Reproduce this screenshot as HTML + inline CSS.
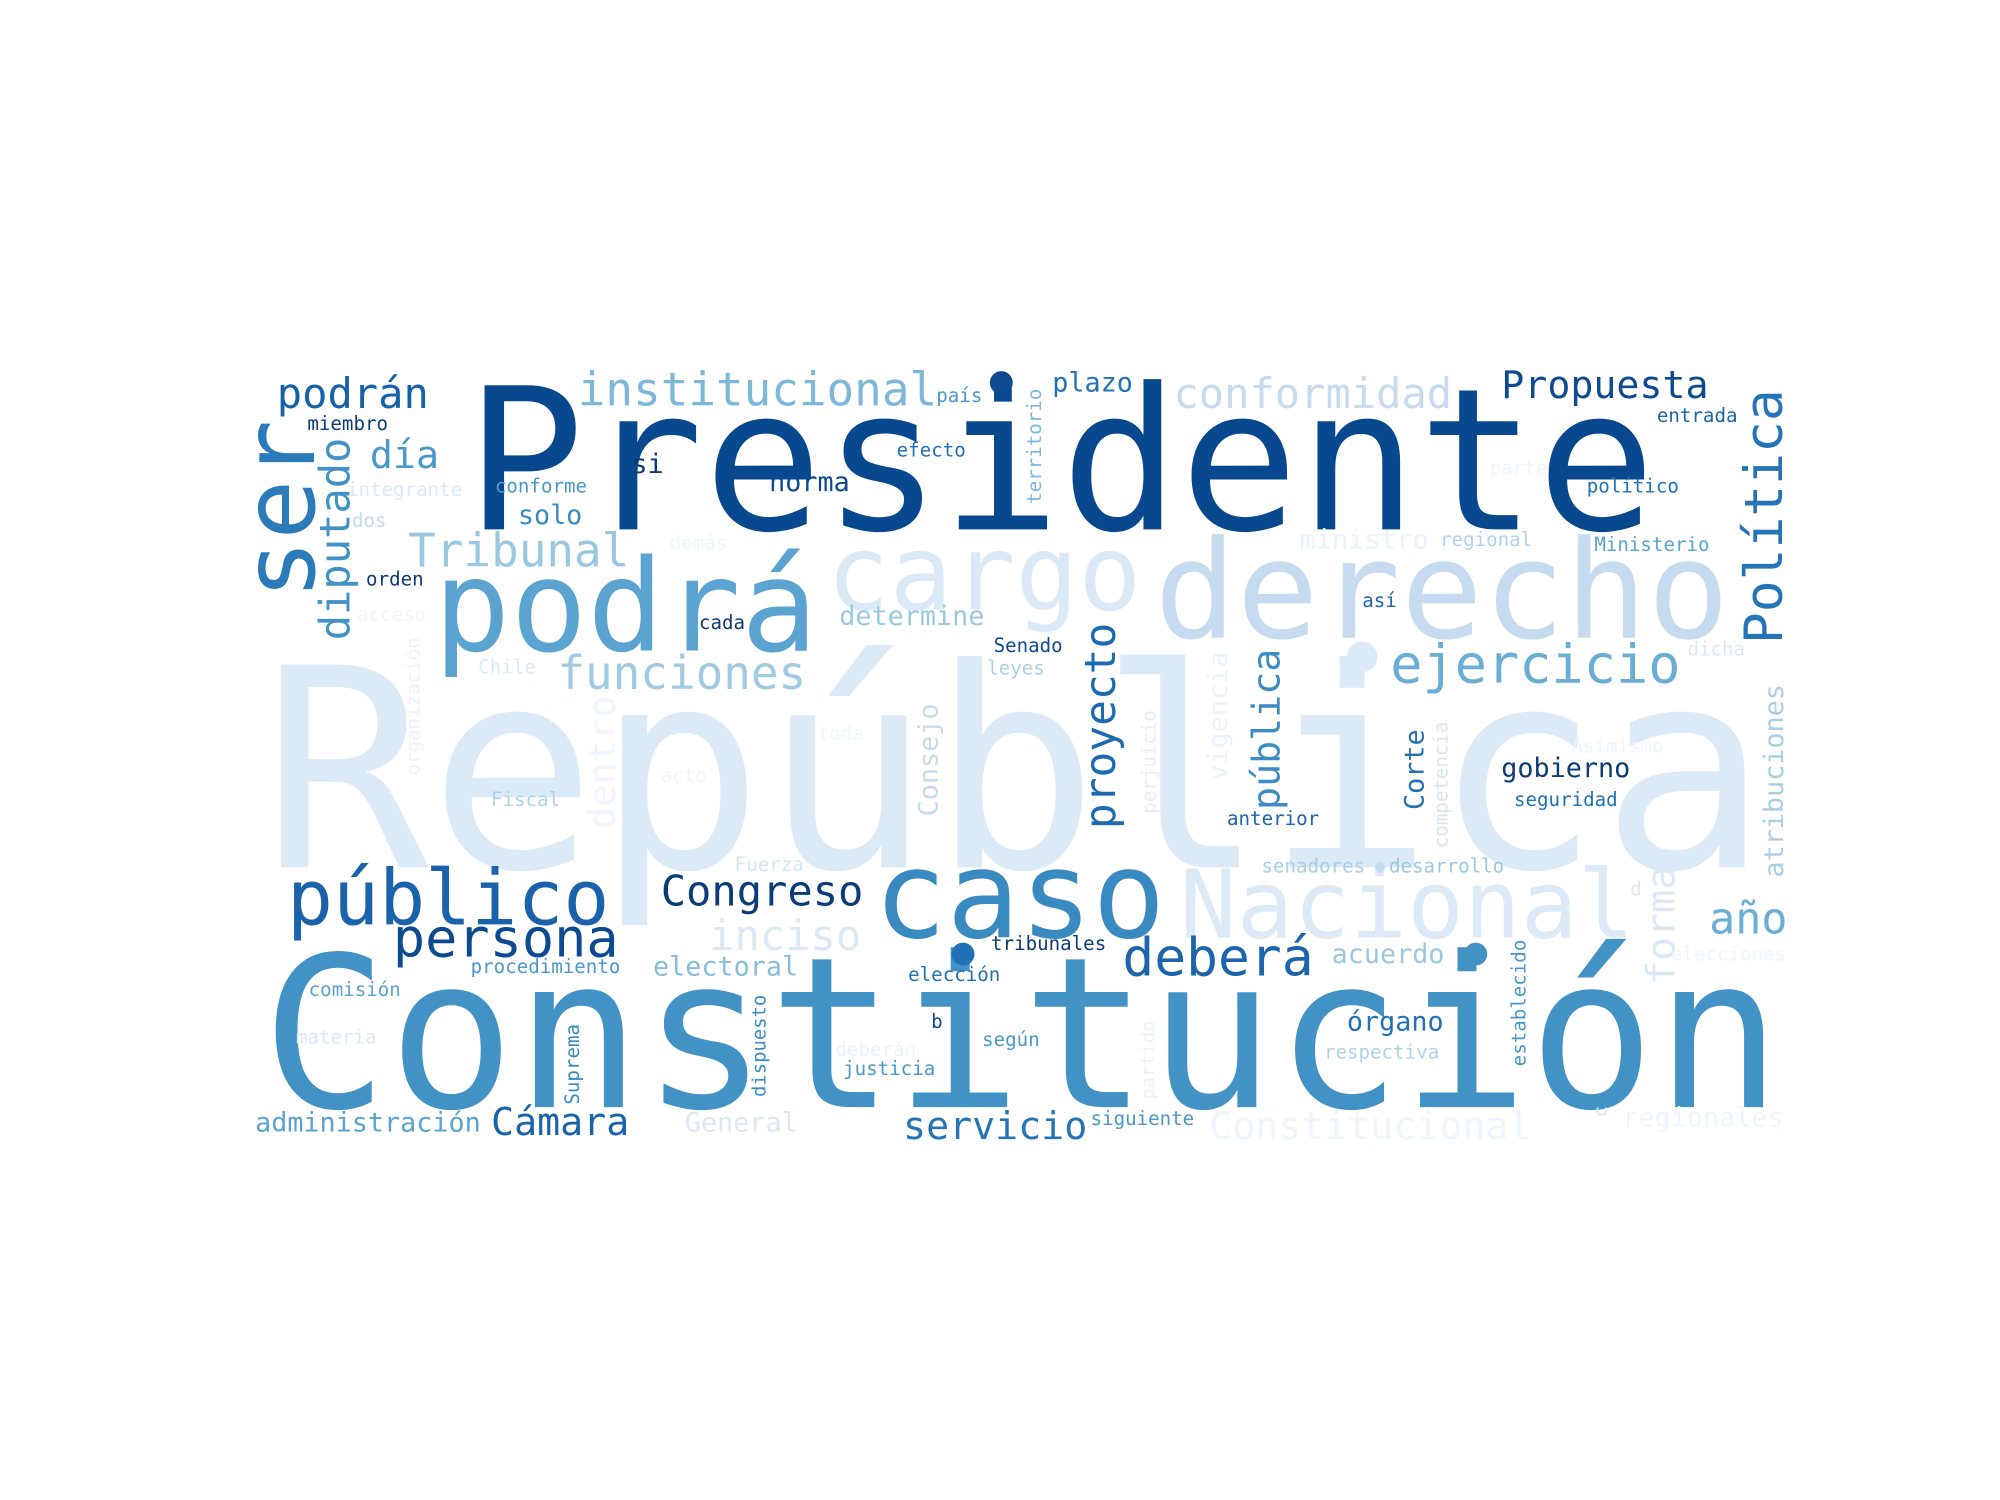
<!DOCTYPE html>
<html><head><meta charset="utf-8">
<style>
html,body{margin:0;padding:0;background:#fff;}
svg{display:block;}
text{font-family:"DejaVu Sans Mono","Liberation Mono",monospace;}
</style></head>
<body>
<svg id="cloud" width="2000" height="1500" viewBox="0 0 1568 1176" xmlns="http://www.w3.org/2000/svg">
<rect x="0" y="0" width="1568" height="1176" fill="#ffffff"/>
<g id="words"></g>
<g id="dots"></g>
</svg>
<script>
// word list, font sizes (frequency-driven), colours
const words = ["Presidente","República","Constitución","derecho","cargo","podrá","ser","caso","Nacional","público","persona","Congreso","deberá","año","institucional","conformidad","Propuesta","podrán","día","Tribunal","funciones","ejercicio","Política","diputado","proyecto","pública","Corte","Consejo","forma","atribuciones","vigencia","dentro","Suprema","dispuesto","establecido","territorio","perjuicio","competencia","organización","partido","ministro","determine","inciso","electoral","acuerdo","órgano","servicio","Cámara","administración","General","Constitucional","regionales","gobierno","seguridad","Asimismo","dicha","Ministerio","regional","así","político","parte","entrada","plazo","país","efecto","si","norma","miembro","integrante","conforme","dos","solo","demás","orden","acceso","cada","Chile","Senado","leyes","toda","acto","Fiscal","anterior","Fuerza","senadores","desarrollo","d","tribunales","procedimiento","comisión","elección","elecciones","b","según","materia","deberán","justicia","respectiva","siguiente","c"];
const sizes = [155,218,165,107,82,100,78,95,74,60,42,33,41.5,34,36,33,30,33,30,36,36,42,41.5,33,33.6,30,21,21,31,21,21,29,15,14.8,15,15,15,15,15,14.7,21,21,33,21,21,21,30,30,21,21,30,21,21,15,15,15,15,15,15,15,15,15,21,15,15,21,21,15,15,15,15,21,15,15,15,15,15,15,15,15,15,15,15,15,15,15,15,15,15,15,15,15,15,15,15,15,15,15,15,15];
const colors = ["#08488e","#dce9f6","#4292c6","#c6dbef","#dbe9f6","#5ba3d0","#2b7bba","#3a8ac2","#dce9f6","#1a62aa","#0d4a91","#0c3c78","#1c64ab","#6aaed6","#7db8da","#c6dbef","#0d4a8f","#1562a8","#4a98c9","#9ac8e0","#9fcae1","#6aaed6","#2474b7","#4292c6","#1c6aaf","#3d8dc4","#2171b5","#c6dbef","#dbe9f6","#a8cfe5","#eaf2fb","#eef5fc","#3a8ac2","#3d8dc4","#4a98c9","#7db8da","#e3eef9","#d6e6f4","#eaf3fb","#eaf2fb","#eaf2fb","#9ac8e0","#dbe9f6","#86bddc","#9ac8e0","#2171b5","#2474b7","#1a62aa","#5ba3d0","#dbe9f6","#eef5fc","#eef5fc","#0d3b77","#2171b5","#eef5fc","#dbe9f6","#5ba3d0","#b0d2e8","#1c64ab","#2171b5","#eef5fc","#1c64ab","#2171b5","#4a98c9","#2171b5","#0d3b77","#0d4a91","#0d3b77","#dbe9f6","#4a98c9","#c6dbef","#3a8ac2","#eef5fc","#0d3b77","#eef5fc","#0d3b77","#dbe9f6","#0d4a91","#a8cfe5","#f0f6fc","#eef5fc","#b0d2e8","#1c64ab","#d6e6f4","#a8cfe5","#9ac8e0","#dbe9f6","#0d3b77","#4a98c9","#5ba3d0","#2171b5","#eef5fc","#0d4a91","#4a98c9","#dbe9f6","#eaf2fb","#4a98c9","#b0d2e8","#4a98c9","#dbe9f6"];
// layout: [x, baseline y, rotated(1=vertical)]
const layout = [[365,415,0],[205,680,0],[205,868,0],[905,500,0],[648,478,0],[340,510,0],[246,470,1],[685,735,0],[925,735,0],[225,725,0],[308,750,0],[518,710,0],[880,765,0],[1340,732,0],[453,318,0],[920,320,0],[1177,312,0],[217,320,0],[290,367,0],[320,444,0],[437,540,0],[1090,535,0],[1397,505,1],[274,502,1],[874,650,1],[1003,635,1],[1116,635,1],[735,640,1],[1313,772,1],[1398,688,1],[962,612,1],[482,650,1],[454,866,1],[600,860,1],[1196,836,1],[816,395,1],[906,638,1],[1135,665,1],[329,608,1],[905,862,1],[1019,430,0],[658,490,0],[556,745,0],[512,765,0],[1044,755,0],[1056,808,0],[708,893,0],[385,890,0],[200,887,0],[537,887,0],[948,893,0],[1272,883,0],[1177,609,0],[1187,632,0],[1232,590,0],[1323,514,0],[1250,432,0],[1129,428,0],[1068,476,0],[1244,386,0],[1168,372,0],[1299,331,0],[825,307,0],[734,315,0],[703,358,0],[495,371,0],[603,385,0],[241,337,0],[272,389,0],[388,386,0],[276,413,0],[406,411,0],[525,431,0],[287,459,0],[280,487,0],[548,493,0],[375,528,0],[779,511,0],[774,529,0],[641,580,0],[518,613,0],[385,632,0],[962,647,0],[576,683,0],[989,684,0],[1089,684,0],[1278,702,0],[777,745,0],[369,763,0],[242,781,0],[712,769,0],[1310,753,0],[730,806,0],[770,820,0],[232,818,0],[655,828,0],[661,843,0],[1038,830,0],[855,882,0],[1260,876,1]];
// dots: [cx, cy, r, colour]
const dotCx = [785,1068,755,1157,1082];
const dotCy = [300,515,748,748,680];
const dotR = [9,12,9,9,4];
const dotColors = ["#0d4a91","#dce9f6","#2171b5","#4292c6","#c6dbef"];

const NS = "http://www.w3.org/2000/svg";
const g = document.getElementById("words");
for (let i = 0; i < words.length; i++) {
  const t = document.createElementNS(NS, "text");
  const [x, y, r] = layout[i];
  t.setAttribute("font-size", sizes[i]);
  t.setAttribute("fill", colors[i]);
  if (r) t.setAttribute("transform", "translate(" + x + "," + y + ") rotate(-90)");
  else { t.setAttribute("x", x); t.setAttribute("y", y); }
  t.textContent = words[i];
  
  
  g.appendChild(t);
}
const dg = document.getElementById("dots");
for (let i = 0; i < dotCx.length; i++) {
  const c = document.createElementNS(NS, "ellipse");
  c.setAttribute("cx", dotCx[i]);
  c.setAttribute("cy", dotCy[i]);
  c.setAttribute("rx", dotR[i]);
  c.setAttribute("ry", dotR[i]);
  c.setAttribute("fill", dotColors[i]);
  
  
  dg.appendChild(c);
}
</script>
</body></html>
